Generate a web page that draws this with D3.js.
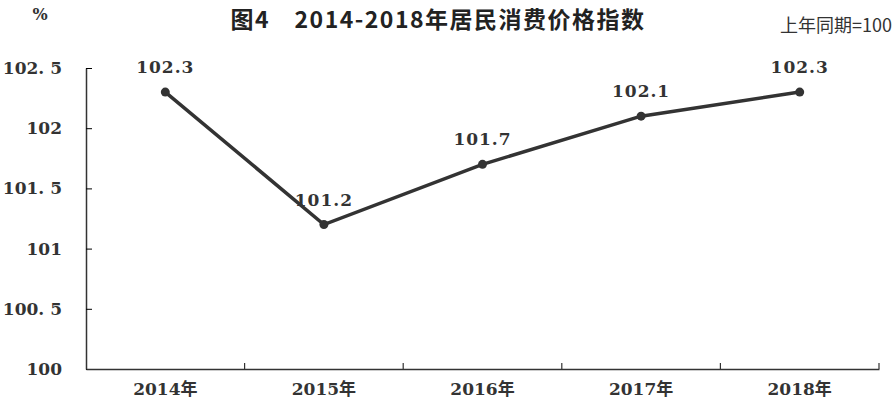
<!DOCTYPE html>
<html>
<head>
<meta charset="utf-8">
<script src="https://cdn.jsdelivr.net/npm/d3@7"></script>
<style>
  body { margin: 0; background: #fff; }
  svg { display: block; }
</style>
</head>
<body>
<svg width="893" height="403"></svg>
<script>
var width = 893;
var height = 403;

// data
var years = ["2014年", "2015年", "2016年", "2017年", "2018年"];
var cpi = [102.3, 101.2, 101.7, 102.1, 102.3];
var yTicks = [100, 100.5, 101, 101.5, 102, 102.5];
var yTickLabels = ["100", "100. 5", "101", "101. 5", "102", "102. 5"];

var chart = d3.select("svg");
var numFont = "'DejaVu Serif', 'Noto Sans CJK SC', serif";
var ink = "#333";

var x = d3.scaleBand().domain(years).range([86, 879]);
var y = d3.scaleLinear().domain([100, 102.5]).range([369, 68]);

// title
chart.append("text")
    .attr("x", 438)
    .attr("y", 28)
    .attr("text-anchor", "middle")
    .attr("font-family", "'Noto Sans CJK SC', serif")
    .attr("font-weight", "bold")
    .attr("font-size", "23px")
    .attr("letter-spacing", "1.5px")
    .attr("fill", "#222")
    .text("图4　2014-2018年居民消费价格指数");

chart.append("text")
    .attr("x", 40)
    .attr("y", 20)
    .attr("text-anchor", "middle")
    .attr("font-family", numFont)
    .attr("font-weight", "bold")
    .attr("font-size", "16px")
    .attr("fill", ink)
    .text("%");

chart.append("text")
    .attr("x", 892)
    .attr("y", 32)
    .attr("text-anchor", "end")
    .attr("font-family", "'Noto Sans CJK SC', sans-serif")
    .attr("font-size", "18px")
    .attr("fill", ink)
    .text("上年同期=100");

// y axis
var yAxis = d3.axisLeft(y)
    .tickValues(yTicks)
    .tickSize(6)
    .tickSizeOuter(0)
    .tickPadding(18)
    .tickFormat(function (d, i) { return yTickLabels[i]; });

var yg = chart.append("g")
    .attr("transform", "translate(86,0)")
    .call(yAxis);
yg.selectAll(".tick line").attr("x1", 0).attr("x2", 6);
yg.selectAll("text")
    .attr("font-family", numFont)
    .attr("font-weight", "bold")
    .attr("font-size", "17px")
    .attr("fill", ink);

// x axis
var xAxis = d3.axisBottom(x).tickSize(0).tickPadding(14);
var xg = chart.append("g")
    .attr("transform", "translate(0,369)")
    .call(xAxis);
xg.selectAll("text")
    .attr("font-family", numFont)
    .attr("font-weight", "bold")
    .attr("font-size", "17px")
    .attr("fill", ink);

// category boundary ticks
var bounds = years.map(function (d) { return x(d) + x.bandwidth(); });
chart.selectAll(".xb")
    .data(bounds)
    .enter()
    .append("line")
    .attr("x1", function (d) { return d; })
    .attr("x2", function (d) { return d; })
    .attr("y1", 369)
    .attr("y2", 363)
    .attr("stroke", ink)
    .attr("stroke-width", 1.2);

chart.selectAll(".domain").attr("stroke", ink).attr("stroke-width", 1.5);

// line
var line = d3.line()
    .x(function (d, i) { return x(years[i]) + x.bandwidth() / 2; })
    .y(function (d) { return y(d); });

chart.append("path")
    .datum(cpi)
    .attr("d", line)
    .attr("fill", "none")
    .attr("stroke", ink)
    .attr("stroke-width", 3.5);

chart.selectAll(".pt")
    .data(cpi)
    .enter()
    .append("circle")
    .attr("cx", function (d, i) { return x(years[i]) + x.bandwidth() / 2; })
    .attr("cy", function (d) { return y(d); })
    .attr("r", 4.5)
    .attr("fill", ink);

// data labels
chart.selectAll(".lbl")
    .data(cpi)
    .enter()
    .append("text")
    .attr("x", function (d, i) { return x(years[i]) + x.bandwidth() / 2; })
    .attr("y", function (d) { return y(d) - 19; })
    .attr("text-anchor", "middle")
    .attr("font-family", numFont)
    .attr("font-weight", "bold")
    .attr("font-size", "17px")
    .attr("letter-spacing", "1px")
    .attr("fill", ink)
    .text(function (d) { return d.toFixed(1); });
</script>
</body>
</html>
